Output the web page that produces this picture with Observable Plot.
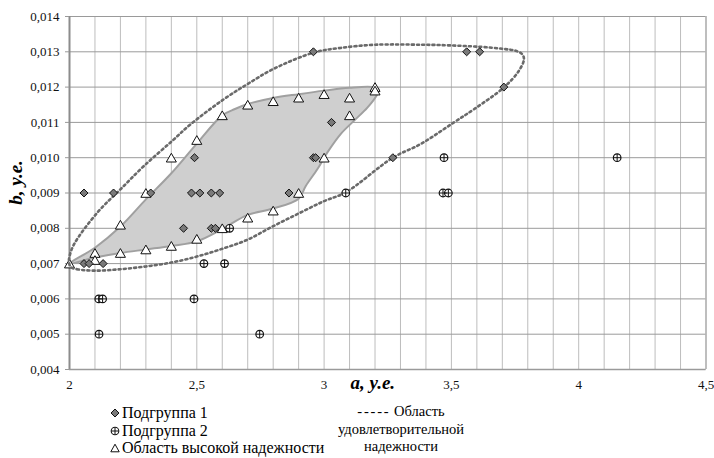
<!DOCTYPE html>
<html><head><meta charset="utf-8">
<script src="https://cdn.jsdelivr.net/npm/d3@7"></script>
<script src="https://cdn.jsdelivr.net/npm/@observablehq/plot@0.6"></script>
<style>
body{margin:0;background:#fff;}
#chart{position:relative;width:714px;height:458px;background:#fff;overflow:hidden;}
#chart svg.plot{display:block;}
</style></head><body><div id="chart" style='font-family:"Liberation Serif", serif'></div>
<script>
// Подгруппа 1 (a, b)
const sub1A = [2.057, 2.173, 2.319, 2.448, 2.491, 2.479, 2.512, 2.557, 2.590, 2.557, 2.573, 2.862, 2.958, 2.967, 2.958, 3.029, 3.270, 3.560, 3.611, 3.706, 2.057, 2.077, 2.132];
const sub1B = [0.009, 0.009, 0.009, 0.008, 0.010, 0.009, 0.009, 0.009, 0.009, 0.008, 0.008, 0.009, 0.010, 0.010, 0.013, 0.011, 0.010, 0.013, 0.013, 0.012, 0.007, 0.007, 0.007];
// Подгруппа 2
const sub2A = [2.115, 2.130, 2.116, 2.489, 2.528, 2.609, 2.747, 2.629, 3.085, 3.471, 3.467, 3.488, 4.151];
const sub2B = [0.006, 0.006, 0.005, 0.006, 0.007, 0.007, 0.005, 0.008, 0.009, 0.010, 0.009, 0.009, 0.010];
// Область высокой надежности (points)
const triA = [2.0, 2.1, 2.1, 2.2, 2.2, 2.3, 2.4, 2.5, 2.3, 2.4, 2.5, 2.6, 2.7, 2.8, 2.9, 3.0, 3.1, 3.1, 3.2, 3.2, 2.6, 2.7, 2.8, 2.9, 3.0];
const triB = [0.0070, 0.0073, 0.0071, 0.0081, 0.0073, 0.0074, 0.0075, 0.0077, 0.0090, 0.0100, 0.0105, 0.0112, 0.0115, 0.0116, 0.0117, 0.0118, 0.0117, 0.0112, 0.0120, 0.0119, 0.0080, 0.0083, 0.0085, 0.0090, 0.0100];
// shaded region outline
const areaA = [2.0, 2.1, 2.2, 2.3, 2.4, 2.5, 2.6, 2.65, 2.7, 2.8, 2.9, 3.0, 3.1, 3.19, 3.215, 3.205, 3.17, 3.118, 3.065, 3.013, 2.974, 2.928, 2.9, 2.8, 2.7, 2.6, 2.5, 2.4, 2.3, 2.2, 2.1];
const areaB = [0.0070, 0.00745, 0.00805, 0.00882, 0.00956, 0.0104, 0.0112, 0.01138, 0.01152, 0.01169, 0.0118, 0.0119, 0.01198, 0.0120, 0.01193, 0.01175, 0.01142, 0.01105, 0.01067, 0.01015, 0.00968, 0.0092, 0.00884, 0.00856, 0.00838, 0.00798, 0.00763, 0.0075, 0.0074, 0.0073, 0.00717];
// dotted satisfactory-reliability contour
const ellA = [2.005, 2.03, 2.1, 2.2, 2.3, 2.4, 2.5, 2.6, 2.7, 2.8, 2.9, 3.0, 3.085, 3.27, 3.38, 3.51, 3.59, 3.706, 3.765, 3.785, 3.778, 3.752, 3.706, 3.615, 3.458, 3.38, 3.2, 3.065, 2.96, 2.8, 2.7, 2.607, 2.476, 2.404, 2.293, 2.201, 2.11, 2.018, 2.0, 1.998];
const ellB = [0.0069, 0.00684, 0.0068, 0.00684, 0.00692, 0.00703, 0.0072, 0.00742, 0.00768, 0.00806, 0.00842, 0.00877, 0.00902, 0.0100, 0.01039, 0.0110, 0.01138, 0.01199, 0.01246, 0.01279, 0.01293, 0.01303, 0.01308, 0.01314, 0.01319, 0.0132, 0.0132, 0.01311, 0.01298, 0.01251, 0.01209, 0.01166, 0.01095, 0.01048, 0.00977, 0.00911, 0.00845, 0.00755, 0.0072, 0.00705];
// ticks
const xTicks = [2, 2.5, 3, 3.5, 4, 4.5];
const xGrid = [2.1, 2.2, 2.3, 2.4, 2.5, 2.6, 2.7, 2.8, 2.9, 3.0, 3.1, 3.2, 3.3, 3.4, 3.5, 3.6, 3.7, 3.8, 3.9, 4.0, 4.1, 4.2, 4.3, 4.4, 4.5];
const yTicks = [0.004, 0.005, 0.006, 0.007, 0.008, 0.009, 0.010, 0.011, 0.012, 0.013, 0.014];
const xLabel = "a, y.e.";
const yLabel = "b, y.e.";
const legendLeft = ["Подгруппа 1", "Подгруппа 2", "Область высокой надежности"];
const legendDash = "-----";
const legendRight = ["Область", "удовлетворительной", "надежности"];

const FONT = '"Liberation Serif", serif';
const pts = (A, B) => A.map((a, i) => ({a, b: B[i]}));
const sub1 = pts(sub1A, sub1B), sub2 = pts(sub2A, sub2B), tri = pts(triA, triB);
const area = pts(areaA, areaB), ell = pts(ellA, ellB);
const fmtY = d => d.toFixed(3).replace(".", ",");
const fmtX = d => String(d).replace(".", ",");

const plot = Plot.plot({
  width: 714, height: 400,
  marginLeft: 69, marginRight: 8.5, marginTop: 16, marginBottom: 31,
  x: {domain: [2, 4.5]},
  y: {domain: [0.004, 0.014]},
  style: {fontFamily: FONT, fontSize: "13px", background: "#fff", overflow: "visible"},
  marks: [
    Plot.ruleX(xGrid, {stroke: "#bdbdbd", strokeWidth: 1}),
    Plot.ruleY(yTicks, {stroke: "#9a9a9a", strokeWidth: 1}),
    Plot.ruleX([4.5], {stroke: "#a8a8a8", strokeWidth: 1.2}),
    Plot.ruleY([0.004], {stroke: "#9a9a9a", strokeWidth: 1.5}),
    Plot.ruleX([2], {stroke: "#8c8c8c", strokeWidth: 2}),
    Plot.axisX({ticks: xTicks, tickFormat: fmtX, tickSize: 0, tickPadding: 10, label: null, color: "#111", fontSize: 13}),
    Plot.axisY({ticks: yTicks, tickFormat: fmtY, tickSize: 4, tickPadding: 6, label: null, stroke: "#999", color: "#111", fontSize: 13}),
    Plot.line(area, {x: "a", y: "b", curve: "catmull-rom-closed", fill: "#cfcfcf", stroke: "#a0a0a0", strokeWidth: 2}),
    Plot.dot(tri, {x: "a", y: "b", symbol: "triangle2", r: 4.8, dy: 1.4, fill: "#fff", stroke: "#111", strokeWidth: 1}),
    Plot.line(ell, {x: "a", y: "b", curve: "catmull-rom-closed", stroke: "#6a6a6a", strokeWidth: 2.6, strokeDasharray: "2 3.2"}),
    Plot.dot(sub1, {x: "a", y: "b", symbol: "diamond2", r: 3.6, fill: "#7a7a7a", stroke: "#111", strokeWidth: 1}),
    Plot.dot(sub2, {x: "a", y: "b", symbol: "circle", r: 3.8, fill: "#fff", stroke: "#111", strokeWidth: 1.2}),
    Plot.dot(sub2, {x: "a", y: "b", symbol: "plus", r: 2.6, stroke: "#111", strokeWidth: 1}),
    Plot.text([xLabel], {frameAnchor: "bottom", textAnchor: "middle", lineAnchor: "bottom", dx: -15, dy: 19, fontSize: 19, fontWeight: "bold", fontStyle: "italic", fill: "#000", ariaLabel: "xlabel"}),
    Plot.text([yLabel], {frameAnchor: "left", textAnchor: "middle", lineAnchor: "bottom", rotate: -90, dx: -48, dy: -10.5, fontSize: 19, fontWeight: "bold", fontStyle: "italic", fill: "#000"})
  ]
});
plot.querySelectorAll("text").forEach(t => t.style.fontFamily = FONT);
const chart = document.getElementById("chart");
chart.appendChild(plot);

// white box behind x-axis label (as in the reference, it masks the axis line)
const labG = plot.querySelector('g[aria-label="xlabel"]');
if (labG) {
  const t = labG.querySelector("text");
  const sb = plot.getBoundingClientRect(), tb = t.getBoundingClientRect();
  const r = document.createElementNS("http://www.w3.org/2000/svg", "rect");
  r.setAttribute("x", tb.left - sb.left - 20);
  r.setAttribute("y", tb.top - sb.top - 2);
  r.setAttribute("width", tb.width + 42);
  r.setAttribute("height", 400);
  r.setAttribute("fill", "#fff");
  labG.parentNode.insertBefore(r, labG);
}

// legend
const mk = 'style="vertical-align:middle;margin-right:2px;position:relative;top:-1px"';
const markers = [
  `<svg width="10" height="10" ${mk}><path d="M5,1L9,5L5,9L1,5Z" fill="#7a7a7a" stroke="#111" stroke-width="1"/></svg>`,
  `<svg width="10" height="10" ${mk}><circle cx="5" cy="5" r="3.8" fill="#fff" stroke="#111" stroke-width="1.1"/><path d="M5,1.5V8.5M1.5,5H8.5" stroke="#111" stroke-width="1"/></svg>`,
  `<svg width="10" height="10" ${mk}><path d="M5,1.2L9.2,8.8H0.8Z" fill="#fff" stroke="#111" stroke-width="1"/></svg>`
];
function legBlock(rows, css, size) {
  const box = document.createElement("div");
  box.setAttribute("style", `position:absolute;${css};font-family:${FONT};font-size:${size}px;line-height:17.5px;color:#000;white-space:nowrap;`);
  rows.forEach(html => {
    const row = document.createElement("div");
    row.setAttribute("style", `font-family:${FONT};font-size:${size}px;line-height:17.5px;height:17.5px;color:#000;white-space:nowrap;`);
    row.innerHTML = html;
    box.appendChild(row);
  });
  chart.appendChild(box);
}
const span = s => `<span style='font-family:${FONT}'>${s}</span>`;
legBlock(legendLeft.map((s, i) => markers[i] + span(s)), "left:110px;top:404px", 16);
legBlock([
  `<span style='font-family:${FONT};letter-spacing:1.8px'>${legendDash}</span> ` + span(legendRight[0]),
  span(legendRight[1]), span(legendRight[2])
], "left:301px;top:403px;width:200px;text-align:center", 14.5);
</script>
</body></html>
